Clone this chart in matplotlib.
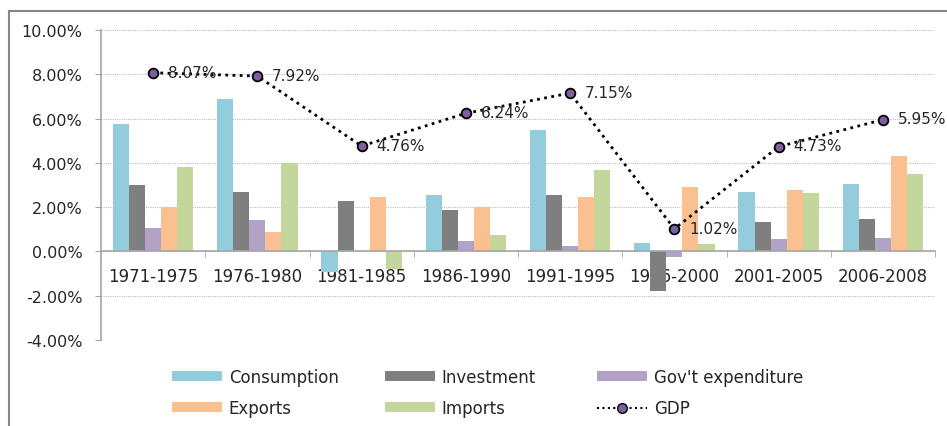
import numpy as np
import matplotlib
matplotlib.use("Agg")
from matplotlib import pyplot as plt
from matplotlib.patches import Patch
from matplotlib.lines import Line2D
from matplotlib.ticker import FuncFormatter, FixedLocator

# Datos (porcentajes)
periodos = ["1971-1975", "1976-1980", "1981-1985", "1986-1990",
            "1991-1995", "1996-2000", "2001-2005", "2006-2008"]
consumo = [5.75, 6.88, -0.95, 2.53, 5.50, 0.37, 2.67, 3.03]
inversion = [2.98, 2.70, 2.30, 1.85, 2.57, -1.77, 1.31, 1.46]
gasto_gob = [1.08, 1.40, 0.0, 0.45, 0.25, -0.26, 0.58, 0.60]
exportaciones = [2.00, 0.86, 2.44, 2.00, 2.44, 2.90, 2.76, 4.30]
importaciones = [3.80, 4.00, -0.81, 0.72, 3.70, 0.32, 2.63, 3.49]
pib = [8.07, 7.92, 4.76, 6.24, 7.15, 1.02, 4.73, 5.95]

series = [
    ("Consumption", consumo, "#93CDDD"),
    ("Investment", inversion, "#7F7F7F"),
    ("Gov't expenditure", gasto_gob, "#B3A2C7"),
    ("Exports", exportaciones, "#FAC090"),
    ("Imports", importaciones, "#C3D69B"),
]

plt.rcParams["font.family"] = ["DejaVu Sans"]
texto = "#262626"
W, H = 947, 427

fig = plt.figure(figsize=(W / 100, H / 100), dpi=100)
ax = fig.add_axes([101 / W, 1 - 341 / H, (935 - 101) / W, (341 - 31) / H])

x = np.arange(len(periodos))
ancho = 0.154
for i, (nombre, valores, color) in enumerate(series):
    ax.bar(x + (i - 2) * ancho, valores, width=ancho, color=color, zorder=2)

# Linea del PIB
estilo_pib = dict(linestyle=(0, (1, 1.6)), color="black", marker="o",
                  markerfacecolor="#7B5FA0", markeredgecolor="black")
ax.plot(x, pib, linewidth=2, markersize=7, markeredgewidth=1.3, zorder=3, **estilo_pib)
for xi, v in zip(x, pib):
    ax.annotate(f"{v:.2f}%", (xi, v), xytext=(10.5, 0.5), textcoords="offset points",
                ha="left", va="center", fontsize=11, color=texto, zorder=4,
                annotation_clip=False)

# Ejes
ax.set_xlim(-0.5, len(periodos) - 0.5)
ax.set_ylim(-4, 10)
ax.set_yticks(np.arange(-4, 10.1, 2))
ax.yaxis.set_major_formatter(FuncFormatter(lambda v, p: f"{v:.2f}%"))
ax.yaxis.grid(True, linestyle=(0, (1, 1)), color="#BFBFBF", linewidth=0.8, zorder=0)
ax.tick_params(axis="y", length=4.5, color="#A6A6A6", pad=9, labelsize=11.5,
               labelcolor=texto)

ax.set_xticks(x)
ax.set_xticklabels(periodos)
ax.xaxis.set_minor_locator(FixedLocator(np.arange(-0.5, len(periodos), 1.0)))
ax.tick_params(axis="x", which="major", length=0, pad=11, labelsize=12,
               labelcolor=texto)
ax.tick_params(axis="x", which="minor", length=4, color="#A6A6A6", direction="out")

ax.spines["bottom"].set_position(("data", 0))
for lado in ["top", "right"]:
    ax.spines[lado].set_visible(False)
for lado in ["left", "bottom"]:
    ax.spines[lado].set_color("#A6A6A6")
    ax.spines[lado].set_linewidth(1.2)
ax.set_axisbelow(True)

# Leyenda: tres columnas colocadas a mano, dos filas cada una
h = [Patch(facecolor=c, label=n) for n, _, c in series]
h.append(Line2D([], [], linewidth=1.5, markersize=7, label="GDP", **estilo_pib))
columnas = [(h[0], h[3]), (h[1], h[4]), (h[2], h[5])]
for k, par in enumerate(columnas):
    x0 = [172, 385, 597][k]
    fig.legend(handles=list(par), loc="upper left",
               bbox_to_anchor=(x0 / W, 1 - 369 / H), frameon=False,
               fontsize=12, handlelength=3.0, handleheight=0.55,
               labelspacing=0.78, handletextpad=0.4, borderpad=0,
               borderaxespad=0, labelcolor=texto)

# Borde del grafico
fig.add_artist(Line2D([9 / W, 9 / W], [0, 1 - 12 / H], transform=fig.transFigure,
                      color="#868686", linewidth=1.5))
fig.add_artist(Line2D([9 / W, 1], [1 - 12 / H, 1 - 12 / H], transform=fig.transFigure,
                      color="#868686", linewidth=1.5))

plt.savefig("out.png", dpi=100)
plt.close(fig)
